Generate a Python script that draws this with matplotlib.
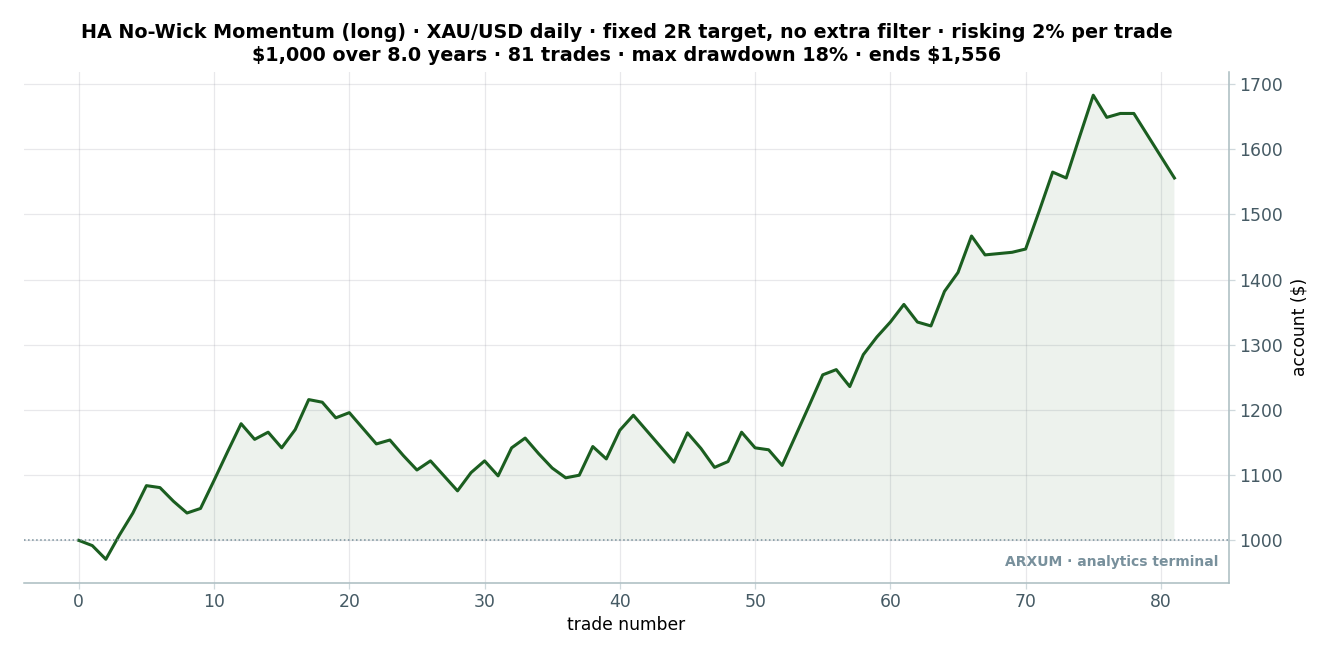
import numpy as np
from matplotlib import pyplot as plt

trade_number = np.arange(82)
account = [1000, 992, 971, 1008, 1042, 1084, 1081, 1060, 1042, 1049,
           1092, 1136, 1179, 1155, 1166, 1142, 1170, 1216, 1212, 1188,
           1196, 1172, 1148, 1154, 1130, 1108, 1122, 1099, 1076, 1104,
           1122, 1099, 1142, 1157, 1133, 1111, 1096, 1100, 1144, 1125,
           1169, 1192, 1168, 1144, 1120, 1165, 1141, 1112, 1121, 1166,
           1142, 1139, 1115, 1161, 1207, 1254, 1262, 1236, 1285, 1312,
           1335, 1362, 1335, 1329, 1382, 1411, 1467, 1438, 1440, 1442,
           1447, 1505, 1565, 1556, 1620, 1683, 1649, 1655, 1655, 1622,
           1589, 1556]
start_balance = 1000
x_ticks = [0, 10, 20, 30, 40, 50, 60, 70, 80]
y_ticks = [1000, 1100, 1200, 1300, 1400, 1500, 1600, 1700]
title = ("HA No-Wick Momentum (long) · XAU/USD daily · fixed 2R target, no extra filter · risking 2% per trade\n"
         "$1,000 over 8.0 years · 81 trades · max drawdown 18% · ends $1,556")

W, H = 1331, 658
fig = plt.figure(figsize=(W / 100, H / 100), dpi=100)
ax = fig.add_axes([24 / W, 1 - 582.5 / H, (1229.2 - 24) / W, (582.5 - 72) / H])

account = np.array(account)
ax.fill_between(trade_number, start_balance, account, where=account >= start_balance,
                interpolate=True, color='#1b5e20', alpha=0.08, linewidth=0)
ax.plot(trade_number, account, color='#1b5e20', linewidth=2.2)
ax.axhline(start_balance, color='#78909c', linewidth=1.1, linestyle=':')

ax.set_xticks(x_ticks)
ax.set_yticks(y_ticks)
ax.yaxis.tick_right()
ax.yaxis.set_label_position('right')
ax.grid(True, color='#90909c', alpha=0.2, linewidth=0.9)
ax.set_axisbelow(True)
ax.tick_params(axis='both', labelsize=12.4, labelcolor='#455a64', color='#cfd8dc', length=4, width=0.9)
ax.set_xlabel('trade number', fontsize=12.3)
ax.set_ylabel('account ($)', fontsize=12.3, labelpad=5)
for side in ['top', 'left']:
    ax.spines[side].set_visible(False)
for side in ['right', 'bottom']:
    ax.spines[side].set_color('#a9bcc0')
    ax.spines[side].set_linewidth(1.1)

ax.text(0.9913, 0.04, 'ARXUM · analytics terminal', transform=ax.transAxes, ha='right', va='center',
        fontsize=10, fontweight='bold', color='#78909c')
ax.set_title(title, fontsize=13.78, fontweight='bold', pad=8, linespacing=1.25, parse_math=False)

fig.savefig('out.png', dpi=100, facecolor='white')
